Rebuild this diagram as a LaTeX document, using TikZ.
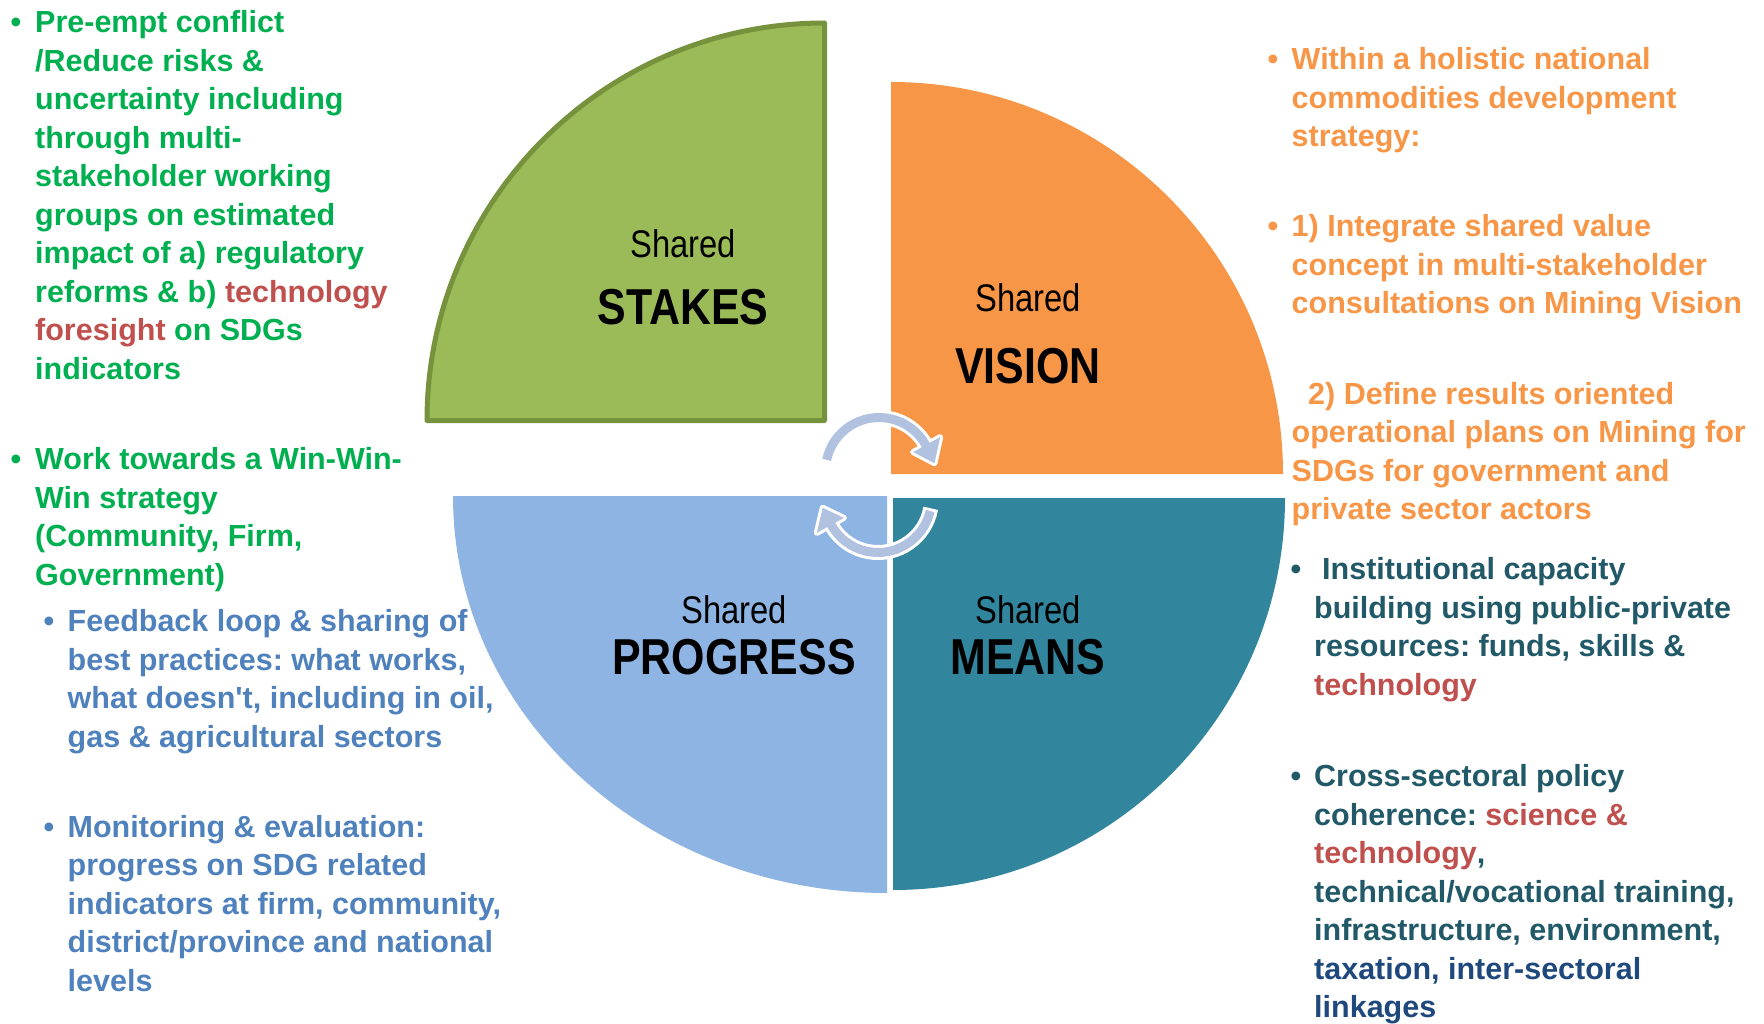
\documentclass[tikz,border=0pt]{standalone}
\usepackage{fontspec}
\setmainfont{Liberation Sans}
\newfontfamily\narrowfont{Liberation Sans}[FakeStretch=0.85]
\usetikzlibrary{calc}
\frenchspacing

\definecolor{txtgreen}{HTML}{00B050}
\definecolor{txtred}{HTML}{C0504D}
\definecolor{txtorange}{HTML}{F79646}
\definecolor{txtblue}{HTML}{4F81BD}
\definecolor{txtteal}{HTML}{215968}
\definecolor{txtnavy}{HTML}{1F497D}
\definecolor{qgreen}{HTML}{9BBB59}
\definecolor{qgreenline}{HTML}{76923C}
\definecolor{qorange}{HTML}{F79646}
\definecolor{qteal}{HTML}{31859C}
\definecolor{qblue}{HTML}{8EB4E3}
\definecolor{cyclearrow}{HTML}{B0C2DF}

\newcommand\bodyfont{\fontsize{30.5}{38.5}\selectfont\bfseries}
\newcommand\lines[1]{\parbox[t]{700pt}{\raggedright #1}}
\newcommand\hot[1]{{\color{txtred}#1}}

\tikzset{
  bodytext/.style={anchor=base west, inner sep=0pt, font=\bodyfont},
  bulletmark/.style={anchor=base west, inner sep=0pt, font=\bodyfont},
  sharedword/.style={anchor=base, inner sep=0pt, font=\narrowfont\fontsize{38.5}{40}\selectfont},
  bigword/.style={anchor=base, inner sep=0pt, font=\narrowfont\bfseries\fontsize{50.5}{52}\selectfont},
}

\begin{document}
\begin{tikzpicture}[x=1pt,y=-1pt]
\useasboundingbox (0,0) rectangle (1764,1024);

% ---- the four quarters ----
\filldraw[fill=qgreen, draw=qgreenline, line width=5pt, line join=round]
  (824.5,420.5) -- (427,420.5) arc[start angle=180, end angle=270, radius=397.5] -- cycle;
\fill[qorange] (891,474) -- (891,82) arc[start angle=270, end angle=360, radius=392] -- cycle;
\fill[qteal] (893,498) -- (1285,498) arc[start angle=0, end angle=90, radius=392] -- cycle;
\fill[qblue] (887,496) -- (887,893) arc[start angle=90, end angle=180, x radius=434, y radius=397] -- cycle;

% ---- circular arrows in the middle ----
\coordinate (c1) at (879,471);
\coordinate (c2) at (878,499);
\coordinate (h1a) at ($(c1)+(331:39)$);
\coordinate (h1b) at ($(c1)+(331:70)$);
\coordinate (h1t) at ($(c1)+(352:56)$);
\coordinate (h2a) at ($(c2)+(151:39)$);
\coordinate (h2b) at ($(c2)+(151:70)$);
\coordinate (h2t) at ($(c2)+(171:56)$);

\draw[white, line width=15pt] ($(c1)+(189:53.5)$) arc[start angle=189, end angle=332, radius=53.5];
\filldraw[white, line width=6pt, line join=round] (h1a) -- (h1t) -- (h1b) -- cycle;
\draw[white, line width=15pt] ($(c2)+(10:53.5)$) arc[start angle=10, end angle=152, radius=53.5];
\filldraw[white, line width=6pt, line join=round] (h2a) -- (h2t) -- (h2b) -- cycle;

\draw[cyclearrow, line width=9pt] ($(c1)+(192:53.5)$) arc[start angle=192, end angle=332, radius=53.5];
\fill[cyclearrow] (h1a) -- (h1t) -- (h1b) -- cycle;
\draw[cyclearrow, line width=9pt] ($(c2)+(13:53.5)$) arc[start angle=13, end angle=152, radius=53.5];
\fill[cyclearrow] (h2a) -- (h2t) -- (h2b) -- cycle;

% ---- quarter labels ----
\node[sharedword] (stakesA) at (683,258) {Shared};
\node[bigword]    (stakesB) at (683,324) {STAKES};
\node[sharedword] (visionA) at (1028,312) {Shared};
\node[bigword]    (visionB) at (1028,383) {VISION};
\node[sharedword] (progA)   at (734,623) {Shared};
\node[bigword]    (progB)   at (734,674) {PROGRESS};
\node[sharedword] (meansA)  at (1028,623) {Shared};
\node[bigword]    (meansB)  at (1028,674) {MEANS};

% ---- left column ----
\node[bulletmark, txtgreen] (bA) at (10.5,33) {•};
\node[bodytext, txtgreen] (tA) at (35,33) {\lines{Pre-empt conflict\\
/Reduce risks \&\\
uncertainty including\\
through multi-\\
stakeholder working\\
groups on estimated\\
impact of a) regulatory\\
reforms \& b) \hot{technology}\\
\hot{foresight} on SDGs\\
indicators}};

\node[bulletmark, txtgreen] (bB) at (10.5,469.5) {•};
\node[bodytext, txtgreen] (tB) at (35,469.5) {\lines{Work towards a Win-Win-\\
Win strategy\\
(Community, Firm,\\
Government)}};

\node[bulletmark, txtblue] (bC) at (43.5,631.5) {•};
\node[bodytext, txtblue] (tC) at (67.5,631.5) {\lines{Feedback loop \& sharing of\\
best practices: what works,\\
what doesn\textquotesingle t, including in oil,\\
gas \& agricultural sectors}};

\node[bulletmark, txtblue] (bD) at (43.5,837) {•};
\node[bodytext, txtblue] (tD) at (67.5,837) {\lines{Monitoring \& evaluation:\\
progress on SDG related\\
indicators at firm, community,\\
district/province and national\\
levels}};

% ---- right column ----
\node[bulletmark, txtorange] (bE) at (1267.5,70) {•};
\node[bodytext, txtorange] (tE) at (1291.5,70) {\lines{Within a holistic national\\
commodities development\\
strategy:}};

\node[bulletmark, txtorange] (bF) at (1267.5,236.6) {•};
\node[bodytext, txtorange] (tF) at (1291.5,236.6) {\lines{1) Integrate shared value\\
concept in multi-stakeholder\\
consultations on Mining Vision}};

\node[bodytext, txtorange] (tG) at (1291.5,404) {\lines{\hspace*{16.5pt}2) Define results oriented\\
operational plans on Mining for\\
SDGs for government and\\
private sector actors}};

\node[bulletmark, txtteal] (bH) at (1290.5,579.7) {•};
\node[bodytext, txtteal] (tH) at (1314,579.7) {\lines{\hspace*{8pt}Institutional capacity\\
building using public-private\\
resources: funds, skills \&\\
\hot{technology}}};

\node[bulletmark, txtteal] (bI) at (1290.5,786.7) {•};
\node[bodytext, txtteal] (tI) at (1314,786.7) {\lines{Cross-sectoral policy\\
coherence: \hot{science \&}\\
\hot{technology},\\
technical/vocational training,\\
infrastructure, environment,\\
{\color{txtnavy}taxation, inter-sectoral}\\
{\color{txtnavy}linkages}}};
\end{tikzpicture}
\end{document}
